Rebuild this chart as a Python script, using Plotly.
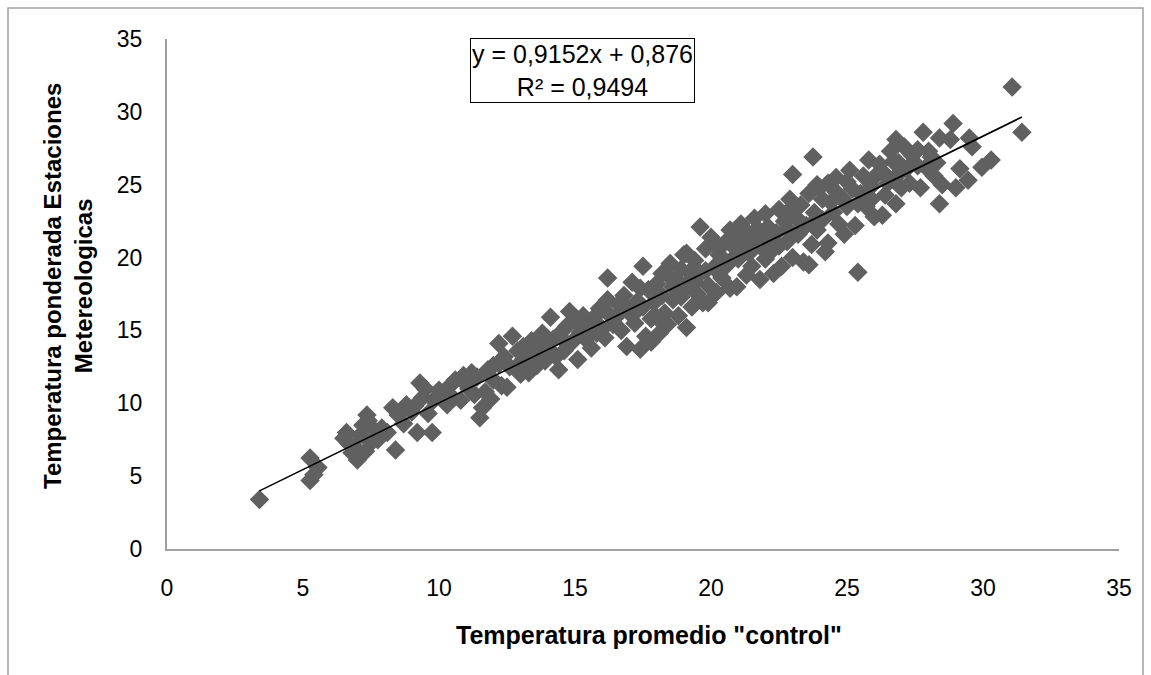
import plotly.graph_objects as go

# Daily temperature pairs: mean "control" temperature vs weighted station temperature
control_temp = [
    3.4, 5.26, 5.26, 5.55, 5.4,
    6.6, 6.5, 6.7, 6.9, 7.0, 6.8, 7.1, 7.2, 7.35, 7.4, 7.5, 7.6, 7.75, 7.3, 7.9, 8.1, 8.4, 8.3, 8.5,
    8.8, 8.7, 9.0, 9.2, 9.1, 9.4, 9.3, 9.5, 9.6, 9.75, 9.8, 10.0, 10.2, 10.4, 10.3,
    10.6, 10.8, 10.9, 11.0, 11.2, 11.3, 11.5, 11.6, 11.4, 11.7, 11.8, 12.0, 11.9, 12.2, 12.3, 12.4, 12.5, 12.2, 12.7,
    12.8, 12.9, 13.0, 13.1, 13.2, 13.3, 13.4, 13.5, 13.6, 13.7, 13.8, 13.9, 14.0, 14.1, 14.2, 14.3, 14.4, 14.5,
    14.6, 14.8, 14.7, 14.9, 15.0, 15.1, 15.2, 15.3, 15.4, 15.5, 15.6, 15.7, 15.8, 15.9, 16.0, 16.2, 16.2, 16.1, 16.3, 16.4,
    16.6, 16.7, 16.8, 16.9, 17.0, 17.1, 17.2, 17.3, 17.4, 17.5, 17.5, 17.6, 17.7, 17.8, 17.9, 18.0, 18.1, 18.2, 18.3, 18.4, 18.5, 18.4, 18.0, 17.8,
    18.6, 18.7, 18.8, 18.9, 19.0, 19.1, 19.1, 19.2, 19.3, 19.4, 19.5, 19.6, 19.6, 19.7, 19.8, 19.9, 19.9, 20.0, 20.1, 20.2, 20.3, 20.4, 20.5,
    20.6, 20.7, 20.8, 20.9, 20.95, 21.0, 21.1, 21.2, 21.3, 21.4, 21.5, 21.6, 21.7, 21.8, 21.9, 22.0, 22.1, 22.2, 22.3, 22.4, 22.5, 22.6, 22.5,
    22.7, 22.8, 22.9, 23.0, 23.0, 23.1, 23.2, 23.3, 23.4, 23.5, 23.6, 23.7, 23.75, 23.8, 23.9, 24.0, 24.1, 24.2, 24.3, 24.4, 24.3, 23.6,
    24.6, 24.7, 24.8, 24.9, 25.0, 25.1, 25.2, 25.3, 25.4, 25.5, 25.6, 25.7, 25.8, 25.9, 26.0, 26.1, 26.3, 26.2, 26.4,
    26.6, 26.7, 26.8, 26.8, 26.9, 27.0, 27.1, 27.2, 27.3, 27.4, 27.6, 27.7, 27.8, 27.9, 28.0, 28.2, 28.3, 28.4, 28.4, 28.5, 28.8, 28.9,
    29.0, 29.15, 29.45, 29.5, 29.6, 29.96, 30.3, 31.07, 31.43,
    10.5, 11.1, 12.6, 13.6, 14.6, 15.4, 16.5, 17.3, 17.9, 18.6, 19.2, 19.8, 20.4, 20.9, 21.4, 21.9, 22.2, 22.8, 23.3, 23.8,
    24.5, 24.9, 25.4, 25.9, 26.5, 27.0, 27.6, 28.1, 20.2, 19.4, 18.9, 21.1, 22.9, 24.1, 26.3, 16.9, 15.8, 14.0, 13.1, 12.0,
    17.4, 21.7, 23.9, 25.0, 26.7, 19.0, 20.7, 22.0, 18.2, 24.6,
]
station_temp = [
    3.4, 6.25, 4.7, 5.6, 5.1,
    8.0, 7.6, 7.2, 7.0, 6.1, 6.6, 7.8, 8.5, 9.2, 8.8, 7.3, 8.2, 7.5, 6.7, 8.3, 8.0, 6.8, 9.7, 9.2,
    9.9, 8.6, 9.4, 8.0, 9.8, 10.4, 11.4, 11.0, 9.3, 8.0, 10.2, 10.9, 10.5, 11.2, 9.9,
    11.6, 10.2, 11.9, 11.3, 12.1, 10.6, 9.0, 9.7, 11.8, 10.8, 12.3, 11.6, 10.3, 12.7, 11.2, 13.2, 11.1, 14.1, 14.6,
    12.4, 13.6, 12.0, 13.9, 12.8, 12.1, 14.3, 13.4, 12.6, 13.9, 14.8, 12.9, 13.8, 15.9, 14.4, 13.2, 12.3, 14.9,
    13.6, 16.3, 15.3, 14.2, 15.7, 13.0, 14.9, 16.0, 14.4, 15.3, 13.8, 15.9, 14.8, 16.5, 15.1, 18.6, 17.1, 14.5, 16.0, 15.4,
    16.8, 15.0, 17.4, 13.9, 16.2, 18.3, 15.5, 17.0, 13.7, 19.4, 16.6, 14.6, 17.8, 15.8, 16.9, 18.2, 14.8, 17.4, 16.2, 18.8, 19.6, 15.4, 15.9, 14.2,
    17.1, 18.5, 16.0, 19.2, 17.8, 20.3, 15.2, 18.4, 16.6, 19.8, 17.5, 22.1, 18.9, 16.9, 20.6, 16.9, 18.1, 21.4, 19.3, 17.6, 20.2, 18.6, 21.0,
    19.5, 17.9, 20.8, 21.8, 18.0, 19.9, 22.3, 20.5, 18.8, 21.6, 19.4, 22.7, 20.9, 18.5, 21.3, 19.9, 22.1, 20.4, 18.9, 21.7, 23.3, 19.4, 20.8,
    22.5, 21.1, 24.0, 25.7, 20.0, 22.8, 21.6, 23.6, 19.7, 22.2, 24.4, 20.9, 26.9, 23.1, 21.9, 24.8, 22.6, 20.4, 21.0, 23.8, 25.1, 19.5,
    25.5, 22.3, 24.1, 21.6, 23.5, 26.0, 24.7, 22.2, 19.0, 24.4, 25.6, 23.5, 26.7, 24.9, 22.8, 25.7, 22.9, 26.4, 24.3,
    27.3, 25.4, 28.1, 23.7, 26.5, 24.8, 27.6, 26.1, 25.1, 27.0, 27.4, 24.8, 28.6, 26.2, 27.3, 25.6, 26.5, 28.2, 23.7, 25.0, 28.1, 29.2,
    24.8, 26.1, 25.3, 28.2, 27.6, 26.2, 26.7, 31.7, 28.6,
    10.4, 11.0, 12.5, 13.3, 14.3, 15.1, 15.9, 16.4, 17.6, 18.0, 19.0, 19.1, 19.9, 20.1, 20.3, 20.6, 21.3, 22.0, 22.4, 22.5,
    23.1, 23.9, 23.7, 24.0, 25.1, 25.9, 26.3, 26.9, 20.8, 18.3, 17.3, 21.0, 23.3, 24.0, 25.9, 16.6, 15.5, 14.4, 13.0, 12.6,
    17.9, 22.0, 25.0, 25.2, 26.6, 20.2, 21.9, 23.0, 18.9, 24.5,
]

# Linear trend reported in the equation box
slope = 0.9152
intercept = 0.876
r_squared = 0.9494

axis_ticks = [0, 5, 10, 15, 20, 25, 30, 35]

x_title = 'Temperatura promedio "control"'
y_title = "Temperatura ponderada Estaciones<br>Metereologicas"

def comma(v, digits):
    return f"{v:.{digits}f}".replace(".", ",")

eq_text = (f"y = {comma(slope, 4)}x + {comma(intercept, 3)}<br>"
           f"R² = {comma(r_squared, 4)}")

x_lo, x_hi = min(control_temp), max(control_temp)
trend_x = [x_lo, x_hi]
trend_y = [slope * v + intercept for v in trend_x]

FONT = "Liberation Sans, Arial, sans-serif"
W, H = 1151, 675
L, R, T, B = 167, 32, 39, 126

fig = go.Figure()
fig.add_trace(go.Scatter(
    x=control_temp, y=station_temp, mode="markers",
    marker=dict(symbol="diamond", size=15, color="#606060", line=dict(width=0)),
    hoverinfo="x+y", showlegend=False,
))
fig.add_trace(go.Scatter(
    x=trend_x, y=trend_y, mode="lines",
    line=dict(color="black", width=1.6), showlegend=False, hoverinfo="skip",
))

axis_common = dict(
    range=[0, 35], tickvals=axis_ticks, showgrid=False, zeroline=False,
    showline=True, linecolor="#a0a0a0", linewidth=2,
    ticks="outside", tickcolor="rgba(0,0,0,0)",
    tickfont=dict(family=FONT, size=23, color="black"),
    fixedrange=True,
)
fig.update_xaxes(**axis_common, ticklen=17)
fig.update_yaxes(**axis_common, ticklen=18)

pw = W - L - R
ph = H - T - B

def px_x(p):
    return (p - L) / pw

def px_y(p):
    return (H - B - p) / ph

fig.update_layout(
    width=W, height=H,
    margin=dict(l=L, r=R, t=T, b=B),
    paper_bgcolor="white", plot_bgcolor="white",
    annotations=[
        dict(text=f"<b>{x_title}</b>", x=px_x(649), y=px_y(635),
             xref="paper", yref="paper", xanchor="center", yanchor="middle",
             showarrow=False,
             font=dict(family=FONT, size=25, color="black")),
        dict(text=f"<b>{y_title}</b>", x=px_x(68), y=px_y(286),
             xref="paper", yref="paper", xanchor="center", yanchor="middle",
             showarrow=False, textangle=-90,
             font=dict(family=FONT, size=24, color="black")),
        dict(text=eq_text, x=px_x(582), y=px_y(70),
             xref="paper", yref="paper", xanchor="center", yanchor="middle",
             showarrow=False,
             font=dict(family=FONT, size=25, color="black"),
             bgcolor="white", bordercolor="black", borderwidth=1, borderpad=1),
    ],
    shapes=[
        dict(type="rect", xref="paper", yref="paper",
             x0=px_x(8), x1=px_x(1143), y0=px_y(700), y1=px_y(8),
             line=dict(color="#a0a0a0", width=1.5), layer="below"),
    ],
)

fig.write_html("out.html")
